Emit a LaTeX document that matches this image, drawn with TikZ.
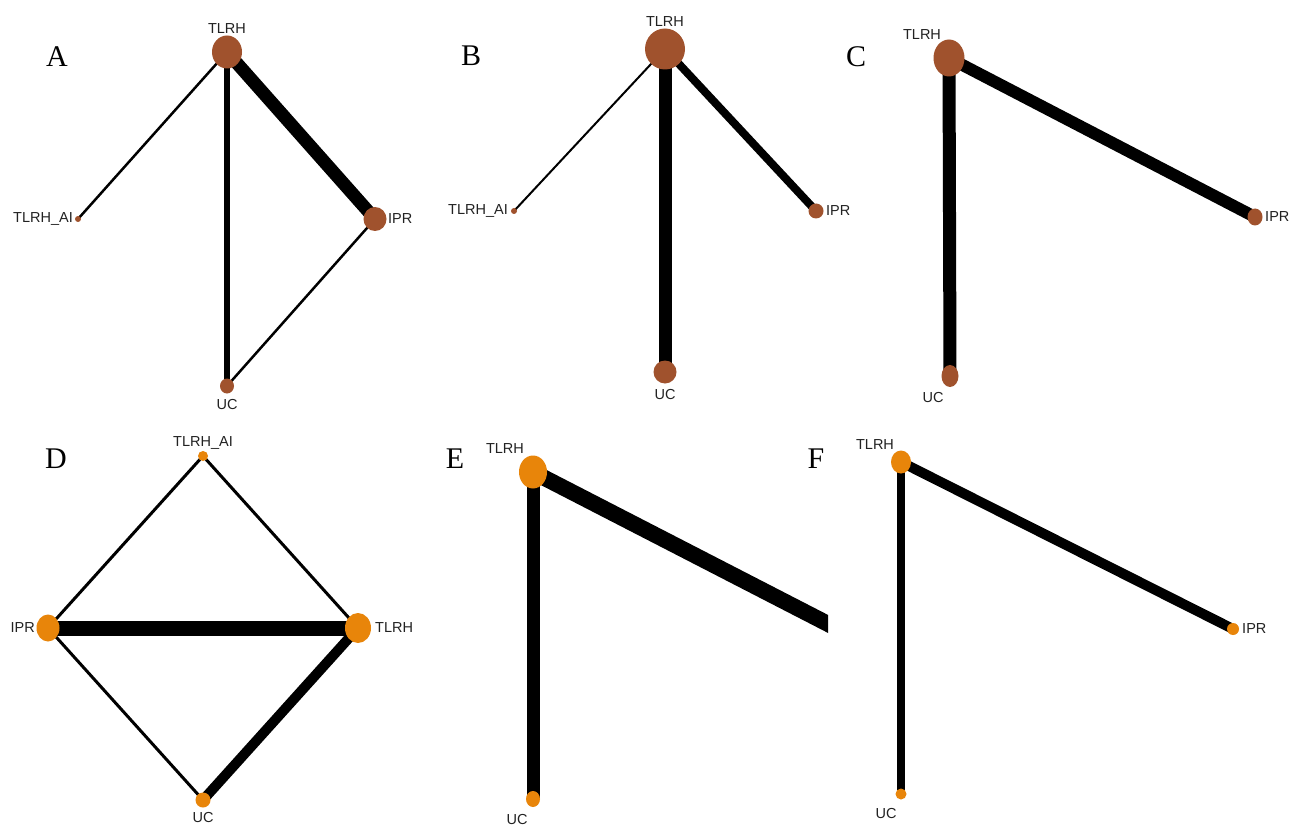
\documentclass[tikz,border=0pt]{standalone}
\usepackage{fontspec}
\setmainfont{Liberation Serif}
\newfontfamily\labfont{Liberation Sans}
\usetikzlibrary{shapes.geometric,backgrounds}
\definecolor{nodebrown}{HTML}{A0522D}
\definecolor{nodeorange}{HTML}{E8850A}
\definecolor{labgray}{HTML}{222222}

\begin{document}
\begin{tikzpicture}[x=1pt,y=-1pt,
  trt/.style={ellipse, inner sep=0pt, draw=none},
  brownnode/.style={trt, fill=nodebrown},
  orangenode/.style={trt, fill=nodeorange},
  lab/.style={font=\labfont\fontsize{14.5}{16}\selectfont, inner sep=0pt, text=labgray},
  panel/.style={font=\fontsize{30}{32}\selectfont, inner sep=0pt},
  link/.style={line width=#1, black}]

\useasboundingbox (0,0) rectangle (1289,826);

% ---------- A ----------
\node[panel] (pA) at (57,57) {A};
\node[brownnode, minimum width=30pt, minimum height=33pt] (aT) at (227,52) {};
\node[brownnode, minimum width=6pt, minimum height=6pt] (aAI) at (78,219) {};
\node[brownnode, minimum width=23pt, minimum height=24pt] (aI) at (375,219) {};
\node[brownnode, minimum width=14pt, minimum height=15pt] (aU) at (227,386) {};
\node[lab] (aTl) at (227,29) {TLRH};
\node[lab, anchor=east] (aAIl) at (73,219) {TLRH\_AI};
\node[lab, anchor=west] (aIl) at (388,219) {IPR};
\node[lab] (aUl) at (227,405) {UC};

% ---------- B ----------
\node[panel] (pB) at (471,56) {B};
\node[brownnode, minimum width=40pt, minimum height=41pt] (bT) at (665,49) {};
\node[brownnode, minimum width=6pt, minimum height=6pt] (bAI) at (514,211) {};
\node[brownnode, minimum width=15pt, minimum height=15pt] (bI) at (816,211) {};
\node[brownnode, minimum width=23pt, minimum height=23pt] (bU) at (665,372) {};
\node[lab] (bTl) at (665,22) {TLRH};
\node[lab, anchor=east] (bAIl) at (508,211) {TLRH\_AI};
\node[lab, anchor=west] (bIl) at (826,211) {IPR};
\node[lab] (bUl) at (665,395) {UC};

% ---------- C ----------
\node[panel] (pC) at (856,57) {C};
\node[brownnode, minimum width=31pt, minimum height=37pt] (cT) at (949,58) {};
\node[brownnode, minimum width=15pt, minimum height=17pt] (cI) at (1255,217) {};
\node[brownnode, minimum width=17pt, minimum height=22pt] (cU) at (950,376) {};
\node[lab] (cTl) at (922,35) {TLRH};
\node[lab, anchor=west] (cIl) at (1265,217) {IPR};
\node[lab] (cUl) at (933,398) {UC};

% ---------- D ----------
\node[panel] (pD) at (56,459) {D};
\node[orangenode, minimum width=10pt, minimum height=10pt] (dAI) at (203,456) {};
\node[orangenode, minimum width=23pt, minimum height=27pt] (dI) at (48,628) {};
\node[orangenode, minimum width=26pt, minimum height=30pt] (dT) at (358,628) {};
\node[orangenode, minimum width=15pt, minimum height=15pt] (dU) at (203,800) {};
\node[lab] (dAIl) at (203,443) {TLRH\_AI};
\node[lab, anchor=east] (dIl) at (35,628) {IPR};
\node[lab, anchor=west] (dTl) at (375,628) {TLRH};
\node[lab] (dUl) at (203,817) {UC};

% ---------- E ----------
\node[panel] (pE) at (455,459) {E};
\node[orangenode, minimum width=28pt, minimum height=33pt] (eT) at (533,472) {};
\node[orangenode, minimum width=14pt, minimum height=16pt] (eU) at (533,799) {};
\node[lab] (eTl) at (505,449) {TLRH};
\node[lab] (eUl) at (517,819) {UC};
\coordinate (eEnd) at (900,661);

% ---------- F ----------
\node[panel] (pF) at (816,459) {F};
\node[orangenode, minimum width=20pt, minimum height=23pt] (fT) at (901,462) {};
\node[orangenode, minimum width=12pt, minimum height=12pt] (fI) at (1233,629) {};
\node[orangenode, minimum width=11pt, minimum height=11pt] (fU) at (901,794) {};
\node[lab] (fTl) at (875,445) {TLRH};
\node[lab, anchor=west] (fIl) at (1242,629) {IPR};
\node[lab] (fUl) at (886,813) {UC};

% ---------- connectors, behind the nodes ----------
\begin{scope}[on background layer]
  \fill[white] (0,0) rectangle (1289,826);
  % A
  \draw[link=2.5pt] (aT.center) -- (aAI.center);
  \draw[link=6pt]   (aT.center) -- (aU.center);
  \draw[link=13pt]  (aT.center) -- (aI.center);
  \draw[link=2.5pt] (aI.center) -- (aU.center);
  % B
  \draw[link=2pt]   (bT.center) -- (bAI.center);
  \draw[link=13pt]  (bT.center) -- (bU.center);
  \draw[link=8pt]   (bT.center) -- (bI.center);
  % C
  \draw[link=13pt]  (cT.center) -- (cU.center);
  \draw[link=12pt]  (cT.center) -- (cI.center);
  % D
  \draw[link=3pt]   (dAI.center) -- (dI.center);
  \draw[link=3pt]   (dAI.center) -- (dT.center);
  \draw[link=15pt]  (dI.center) -- (dT.center);
  \draw[link=3pt]   (dI.center) -- (dU.center);
  \draw[link=10pt]  (dT.center) -- (dU.center);
  % E
  \draw[link=13pt]  (eT.center) -- (eU.center);
  \begin{scope}
    \clip (430,420) rectangle (828,826);
    \draw[link=16pt] (eT.center) -- (eEnd);
  \end{scope}
  % F
  \draw[link=8pt]   (fT.center) -- (fU.center);
  \draw[link=10pt]  (fT.center) -- (fI.center);
\end{scope}
\end{tikzpicture}
\end{document}
